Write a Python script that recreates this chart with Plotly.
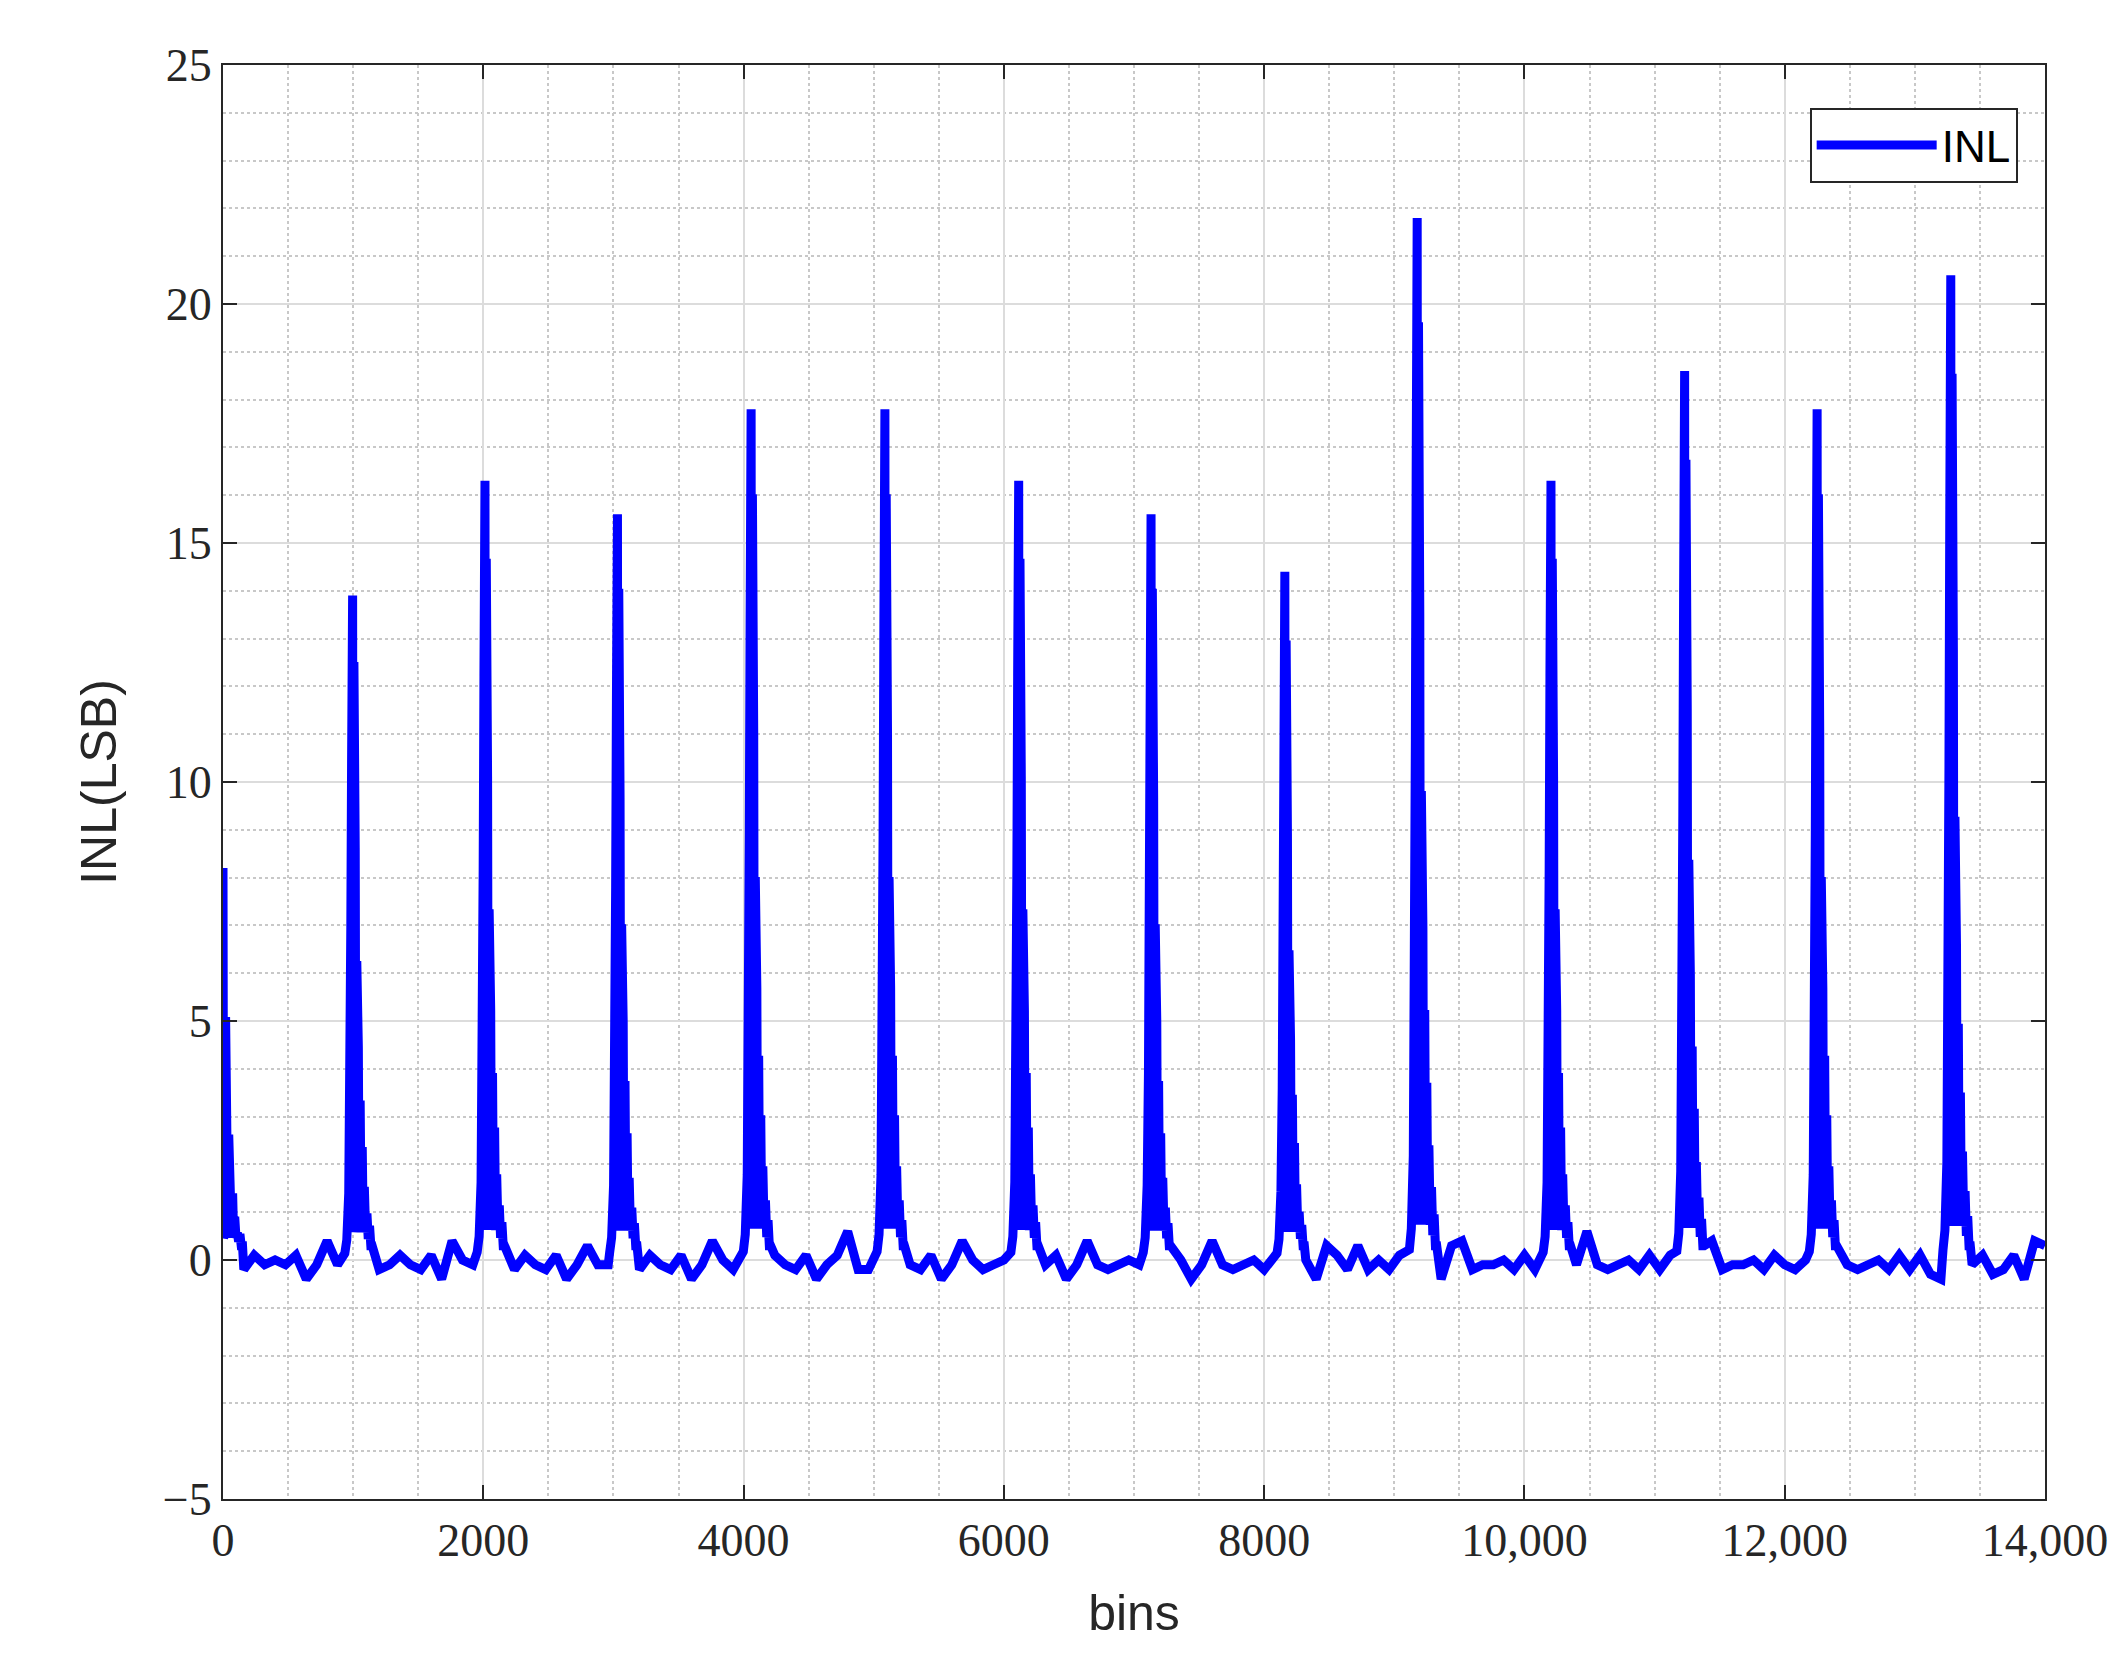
import plotly.graph_objects as go

# spike centres (bins) and peak INL (LSB)
spike_bins = [0, 996, 2013, 3031, 4058, 5086, 6114, 7131, 8159, 9176, 10204, 11231, 12249, 13276]
spike_peaks = [8.2, 13.9, 16.3, 15.6, 17.8, 17.8, 16.3, 15.6, 14.4, 21.8, 16.3, 18.6, 17.8, 20.6]

# spike envelope (offset in bins, fraction of peak) alternating with low values
spike_offsets = [-60, -45, -30, -20, -14, -8, -3, 0, 5, 10, 15, 20, 26, 32, 38, 44, 50, 58, 66, 74, 82, 90, 100, 110, 120, 130, 140, 150]
spike_frac    = [0.01, 0.03, 0.1, 0.25, 0.5, 0.75, 0.98, 1.0, 0.02, 0.9, 0.03, 0.62, 0.03, 0.45, 0.03, 0.32, 0.03, 0.24, 0.02, 0.17, 0.02, 0.11, 0.02, 0.07, 0.01, 0.03, 0.0, 0.0]

# baseline ripple sampled every 80 bins, from 0 to 14000
baseline_step = 80
baseline = [
    0.0, 0.0, -0.2, 0.1, -0.1, 0.0, -0.1, 0.1, -0.4, -0.1, 0.4, -0.1, -0.2, -0.2,
    0.0, -0.2, -0.1, 0.1, -0.1, -0.2, 0.1, -0.4, 0.4, 0.0, -0.1, -0.1, -0.1,
    0.0, -0.2, 0.1, -0.1, -0.2, 0.1, -0.4, -0.1, 0.3, -0.1, -0.1, -0.1,
    0.0, -0.2, 0.1, -0.1, -0.2, 0.1, -0.4, -0.1, 0.4, 0.0, -0.2, -0.1,
    0.0, -0.2, 0.1, -0.1, -0.2, 0.1, -0.4, -0.1, 0.1, 0.6, -0.2, -0.2,
    0.0, -0.2, 0.1, -0.1, -0.2, 0.1, -0.4, -0.1, 0.4, 0.0, -0.2, -0.1,
    0.0, -0.2, 0.1, -0.2, -0.1, 0.1, -0.4, -0.1, 0.4, -0.1, -0.2, -0.1,
    0.0, -0.1, 0.0, -0.2, -0.1, 0.0, -0.4, -0.1, 0.4, -0.1, -0.2, -0.1,
    0.0, -0.2, 0.1, -0.2, -0.1, 0.0, -0.4, 0.3, 0.1, -0.2, 0.3, -0.2,
    0.0, -0.2, 0.1, -0.1, -0.2, 0.0, -0.4, 0.3, 0.4, -0.2, -0.1, -0.1,
    0.0, -0.2, 0.1, -0.2, -0.1, 0.1, -0.4, -0.1, 0.6, -0.1, -0.2, -0.1,
    0.0, -0.2, 0.1, -0.2, 0.1, -0.2, -0.4, 0.1, 0.4, -0.2, -0.1, -0.1,
    0.0, -0.2, 0.1, -0.1, -0.2, 0.0, -0.4, -0.1, 0.5, -0.1, -0.2, -0.1,
    0.0, -0.2, 0.1, -0.2, 0.1, -0.3, -0.4, 0.1, 0.4, -0.1, 0.1, -0.3,
    -0.2, 0.1, -0.4, 0.4, 0.3,
]

x_tickvals = [0, 2000, 4000, 6000, 8000, 10000, 12000, 14000]
x_ticktext = ["0", "2000", "4000", "6000", "8000", "10,000", "12,000", "14,000"]

pts = []
for i, v in enumerate(baseline):
    x = i * baseline_step
    if x > 14000:
        break
    if any(c - 65 <= x <= c + 155 for c in spike_bins):
        continue
    pts.append((x, v))
for c, p in zip(spike_bins, spike_peaks):
    for o, f in zip(spike_offsets, spike_frac):
        x = c + o
        if x < 0:
            continue
        pts.append((x, f * p + (0.3 if f < 0.05 and o > 0 else 0.0)))
pts.sort()
xs = [a for a, b in pts]
ys = [b for a, b in pts]

fig = go.Figure()
fig.add_trace(go.Scatter(x=xs, y=ys, mode="lines", name="INL",
                         line=dict(color="#0000ff", width=9)))

serif = "Liberation Serif, DejaVu Serif, serif"
sans = "Liberation Sans, Arial, sans-serif"
axcommon = dict(showline=True, linecolor="#262626", linewidth=2, mirror="ticks",
                ticks="inside", ticklen=14, tickwidth=2, tickcolor="#262626",
                showgrid=True, gridcolor="#dcdcdc", gridwidth=2, zeroline=False,
                tickfont=dict(family=serif, size=46, color="#262626"))
fig.update_xaxes(range=[0, 14000], tickvals=x_tickvals, ticktext=x_ticktext,
                 minor=dict(dtick=500, showgrid=True, gridcolor="#c8c8c8", griddash="dot", gridwidth=2, ticks=""),
                 title=dict(text="bins", font=dict(family=sans, size=50, color="#262626"), standoff=30),
                 **axcommon)
fig.update_yaxes(range=[-5, 25], dtick=5,
                 minor=dict(dtick=1, showgrid=True, gridcolor="#c8c8c8", griddash="dot", gridwidth=2, ticks=""),
                 title=dict(text="INL(LSB)", font=dict(family=sans, size=50, color="#262626"), standoff=30),
                 **axcommon)
fig.update_layout(width=2128, height=1677, plot_bgcolor="white", paper_bgcolor="white",
                  margin=dict(l=215, r=91, t=57, b=186),
                  showlegend=True,
                  legend=dict(x=0.985, y=0.97, xanchor="right", yanchor="top",
                              bordercolor="#262626", borderwidth=2, bgcolor="white",
                              font=dict(family=sans, size=44, color="black"),
                              itemwidth=120))
fig.write_html("out.html")
